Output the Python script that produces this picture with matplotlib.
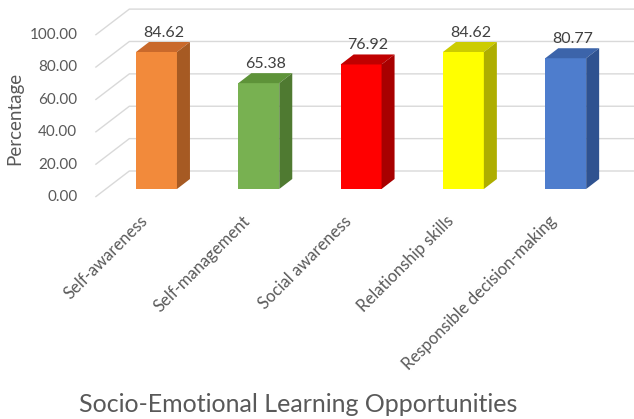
import matplotlib
matplotlib.use('Agg')
import matplotlib.pyplot as plt
from matplotlib.patches import Polygon

plt.rcParams['font.family'] = ['Lato', 'DejaVu Sans']

categories = ['Self-awareness', 'Self-management', 'Social awareness',
              'Relationship skills', 'Responsible decision-making']
values = [84.62, 65.38, 76.92, 84.62, 80.77]
yticks = [0, 20, 40, 60, 80, 100]

front_colors = ['#F28A3B', '#78B151', '#FF0000', '#FFFF00', '#4E7DCD']
top_colors = ['#C9692B', '#5E9339', '#C00000', '#CCCC00', '#3C64AA']
side_colors = ['#A65A23', '#4F7A31', '#A80000', '#AEAE00', '#2F5290']

W, H = 634, 419
PX_X = 102.3        # pixels per category step
PX_Y = 1.619        # pixels per percentage point
X0, Y0 = 156.5, 189  # pixel position of first bar centre, value 0
BAR_W = 0.4

# depth offsets in pixels (right, up), relative to the bar front plane
FLOOR = (-10, -8)
WALL = (24, 18)
SIDE = (13, 10)

GRID = '#D9D9D9'
TEXT = '#595959'


def off(p):
    return p[0] / PX_X, p[1] / PX_Y


fig = plt.figure(figsize=(W / 100, H / 100), dpi=100)
ax = fig.add_axes([0, 0, 1, 1])
ax.set_xlim(-X0 / PX_X, (W - X0) / PX_X)
ax.set_ylim(-(H - Y0) / PX_Y, Y0 / PX_Y)
ax.axis('off')

fx, fy = off(FLOOR)
wx, wy = off(WALL)
sx, sy = off(SIDE)
left, right = -0.5, len(categories) - 0.5

# side wall diagonals + back wall gridlines
for t in yticks:
    ax.plot([left + fx, left + wx, right + wx], [t + fy, t + wy, t + wy],
            color=GRID, lw=1, zorder=1, solid_capstyle='butt')
    ax.text(left + fx - 18 / PX_X, t + fy, f'{t:.2f}', ha='right', va='center',
            fontsize=11, color=TEXT)

xs = list(range(len(categories)))
ax.bar(xs, values, width=BAR_W, color=front_colors, zorder=3)

for x, v, ct, cs in zip(xs, values, top_colors, side_colors):
    x1, x2 = x - BAR_W / 2, x + BAR_W / 2
    ax.add_patch(Polygon([(x1, v), (x2, v), (x2 + sx, v + sy), (x1 + sx, v + sy)],
                         closed=True, facecolor=ct, edgecolor='none', zorder=3))
    ax.add_patch(Polygon([(x2, 0), (x2, v), (x2 + sx, v + sy), (x2 + sx, sy)],
                         closed=True, facecolor=cs, edgecolor='none', zorder=3))
    ax.text(x + 7 / PX_X, v + sy + 9 / PX_Y, f'{v:.2f}', ha='center', va='center',
            fontsize=11.5, color='#404040', zorder=4)

for x, c in zip(xs, categories):
    ax.text(x - 6 / PX_X, -24 / PX_Y, c, rotation=45, ha='right', va='top',
            fontsize=12, color=TEXT)

fig.text(15 / W, 1 - 118 / H, 'Percentage', rotation=90, ha='center', va='center',
         fontsize=13.5, color=TEXT)
fig.text(298 / W, 1 - 404 / H, 'Socio-Emotional Learning Opportunities',
         ha='center', va='center', fontsize=18, color=TEXT)

fig.savefig('out.png', dpi=100, facecolor='white')
